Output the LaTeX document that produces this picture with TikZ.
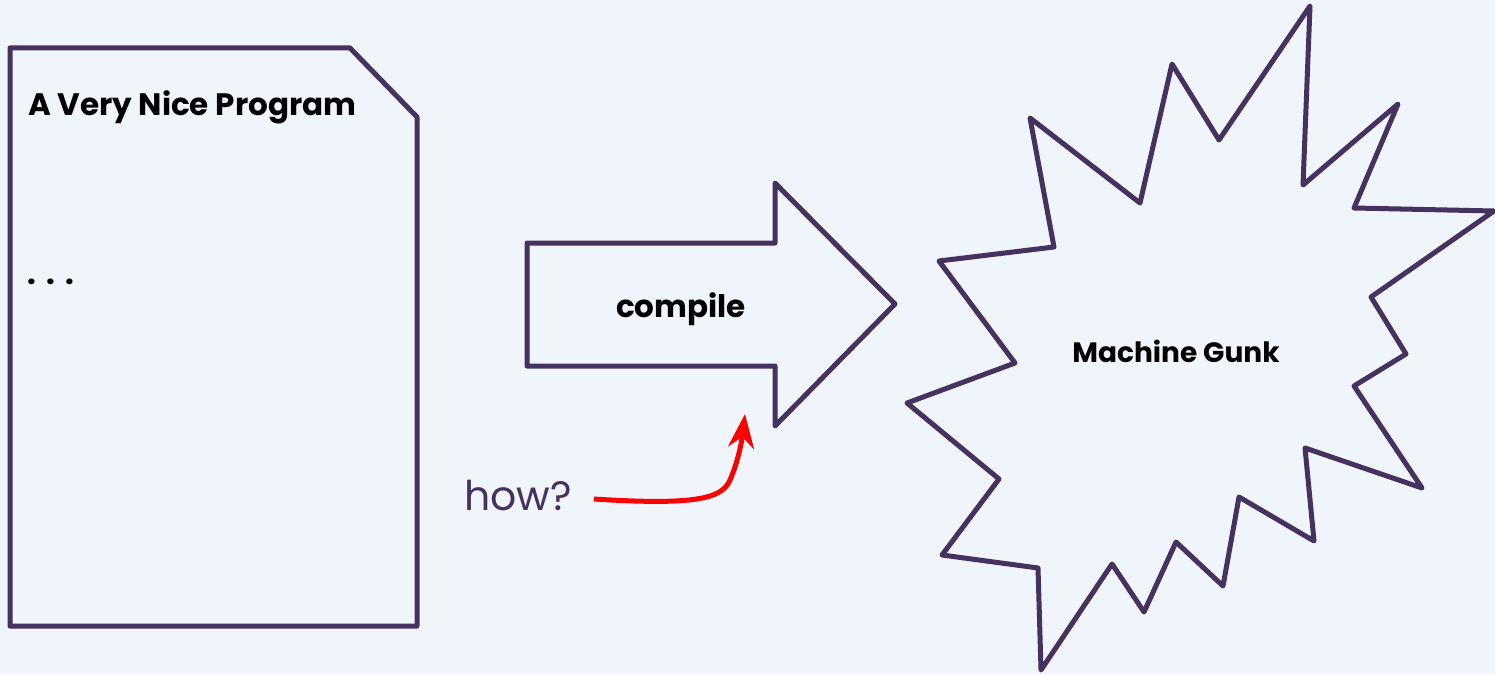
\documentclass[tikz,border=0pt]{standalone}
\usepackage{fontspec}
\setmainfont{Poppins}
\usetikzlibrary{arrows.meta}
\definecolor{bgcol}{HTML}{F0F4FB}
\definecolor{ink}{HTML}{46325E}
\begin{document}
\begin{tikzpicture}[x=1pt,y=-1pt,
  outline/.style={draw=ink,line width=5pt,line join=round},
  boldlabel/.style={font=\fontsize{31}{36}\selectfont\bfseries,text=black,inner sep=0pt},
  gunklabel/.style={boldlabel,font=\fontsize{28}{33}\selectfont\bfseries},
  howlabel/.style={font=\fontsize{41}{47}\selectfont,text=ink,inner sep=0pt},
  redarrow/.style={draw=red,line width=5pt,-{Stealth[length=34pt,width=26pt]}}]
  % canvas
  \fill[bgcol] (0,0) rectangle (1495,674);
  \useasboundingbox (0,0) rectangle (1495,674);

  % source file: a page with a clipped corner
  \draw[outline] (10,48) -- (350,48) -- (417,117) -- (417,626) -- (10,626) -- cycle;
  \node[boldlabel,anchor=base west] (title) at (28,115) {A Very Nice Program};
  \node[boldlabel,anchor=base west] (dots) at (27,284) {.\,\,.\,\,.};

  % block arrow for the compile step
  \draw[outline] (527,243) -- (775,243) -- (775,183) -- (895,304) -- (775,426)
                 -- (775,366) -- (527,366) -- cycle;
  \node[boldlabel,anchor=base] (compile) at (681,317) {compile};

  % the explosion of machine code
  \draw[outline] (1310,6) -- (1219,140) -- (1172,64) -- (1140,203) -- (1030,118)
    -- (1054,247) -- (939,261) -- (1015,363) -- (907,403) -- (999,479)
    -- (942,555) -- (1038,568) -- (1041,670) -- (1112,564) -- (1144,612)
    -- (1176,542) -- (1223,586) -- (1239,497) -- (1314,541) -- (1305,448)
    -- (1422,488) -- (1354,386) -- (1406,354) -- (1371,297) -- (1494,211)
    -- (1354,208) -- (1398,104) -- (1303,185) -- cycle;
  \node[gunklabel,anchor=base] (gunk) at (1176,362) {Machine Gunk};

  % the open question
  \node[howlabel,anchor=base west] (how) at (464,510) {how?};
  \coordinate (target) at (745,414);
  \draw[redarrow] ([xshift=22pt,yshift=-4pt]how.east) .. controls (690,505) and (722,500) .. (730,480)
    .. controls (738,462) and (742,440) .. (target);
\end{tikzpicture}
\end{document}
